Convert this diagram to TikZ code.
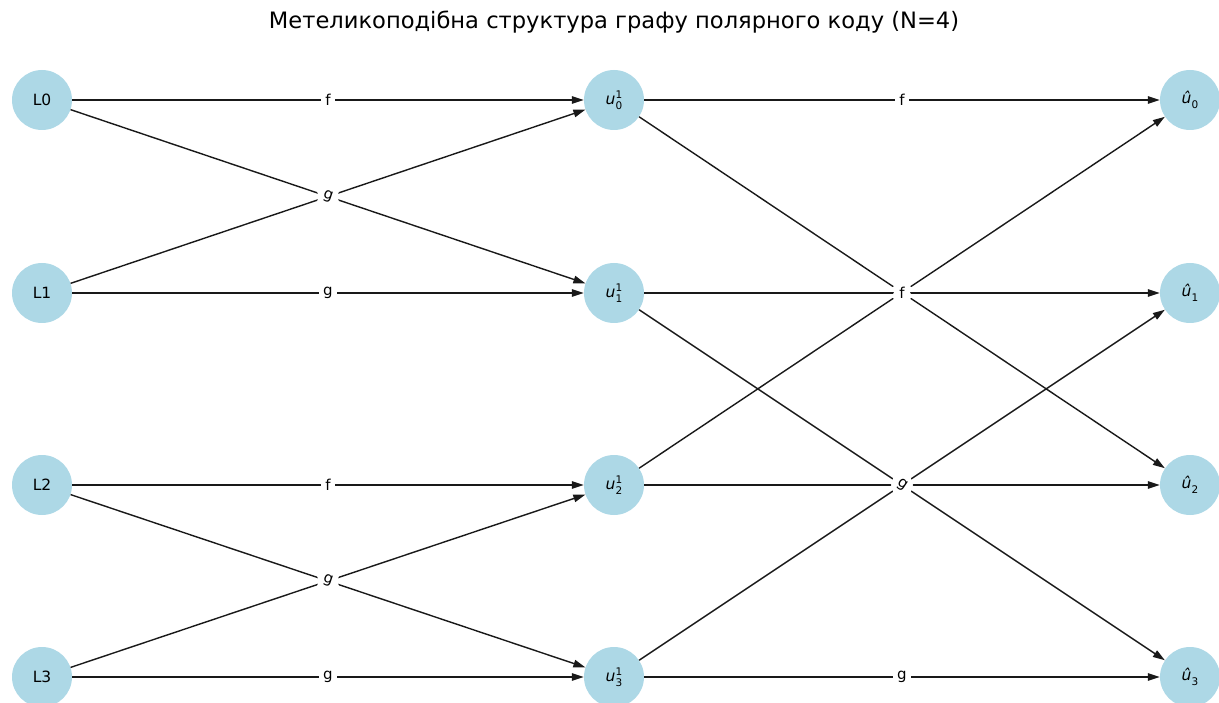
\documentclass[tikz,border=0pt]{standalone}
\usepackage{fontspec}
\setmainfont{DejaVu Sans}
\usetikzlibrary{arrows.meta}

\definecolor{nodeblue}{RGB}{173,216,230}

% node labels of the middle and right columns
\newcommand{\midlbl}[1]{\textit{u}\kern0.3pt\makebox[0pt][l]{\raisebox{0.8ex}{\fontsize{10.5}{10.5}\selectfont 1}}\raisebox{-0.55ex}{\fontsize{10.5}{10.5}\selectfont #1}}
\newcommand{\outlbl}[1]{\textit{\^u}\kern0.3pt\raisebox{-0.55ex}{\fontsize{10.5}{10.5}\selectfont #1}}

\tikzset{
  vtx/.style={circle, fill=nodeblue, minimum size=60pt, inner sep=0pt,
              font=\fontsize{15.5}{15.5}\selectfont},
  link/.style={-{Triangle[length=12pt,width=7.5pt]}, line width=1.4pt, black!90},
  lbl/.style={fill=white, inner sep=4pt, sloped, midway,
              font=\fontsize{15}{15}\selectfont},
}

\begin{document}
\begin{tikzpicture}[x=1pt,y=-1pt]
  \useasboundingbox (0,0) rectangle (1219,703);

  \node[font=\fontsize{22.6}{22.6}\selectfont] (title) at (614,22)
    {Метеликоподібна структура графу полярного коду (N=4)};

  % input layer
  \node[vtx] (L0) at (42,100) {L0};
  \node[vtx] (L1) at (42,293) {L1};
  \node[vtx] (L2) at (42,485) {L2};
  \node[vtx] (L3) at (42,677) {L3};
  % intermediate layer
  \node[vtx] (m0) at (614,100) {\midlbl{0}};
  \node[vtx] (m1) at (614,293) {\midlbl{1}};
  \node[vtx] (m2) at (614,485) {\midlbl{2}};
  \node[vtx] (m3) at (614,677) {\midlbl{3}};
  % decoded bits
  \node[vtx] (o0) at (1190,100) {\outlbl{0}};
  \node[vtx] (o1) at (1190,293) {\outlbl{1}};
  \node[vtx] (o2) at (1190,485) {\outlbl{2}};
  \node[vtx] (o3) at (1190,677) {\outlbl{3}};

  % connectors
  \foreach \a/\b in {L0/m0, L0/m1, L1/m0, L1/m1, L2/m2, L2/m3, L3/m2, L3/m3,
                     m0/o0, m0/o2, m2/o0, m1/o1, m1/o3, m3/o1, m2/o2, m3/o3}
    \draw[link] (\a) -- (\b);

  % connector labels, drawn over all lines
  \foreach \a/\b/\t in {L0/m0/f, L1/m0/g, L0/m1/g, L1/m1/g,
                        L2/m2/f, L3/m2/g, L2/m3/g, L3/m3/g,
                        m0/o0/f, m2/o0/f, m0/o2/f, m1/o1/f,
                        m3/o1/g, m2/o2/g, m1/o3/g, m3/o3/g}
    \path (\a) -- (\b) node[lbl] {\t};
\end{tikzpicture}
\end{document}
